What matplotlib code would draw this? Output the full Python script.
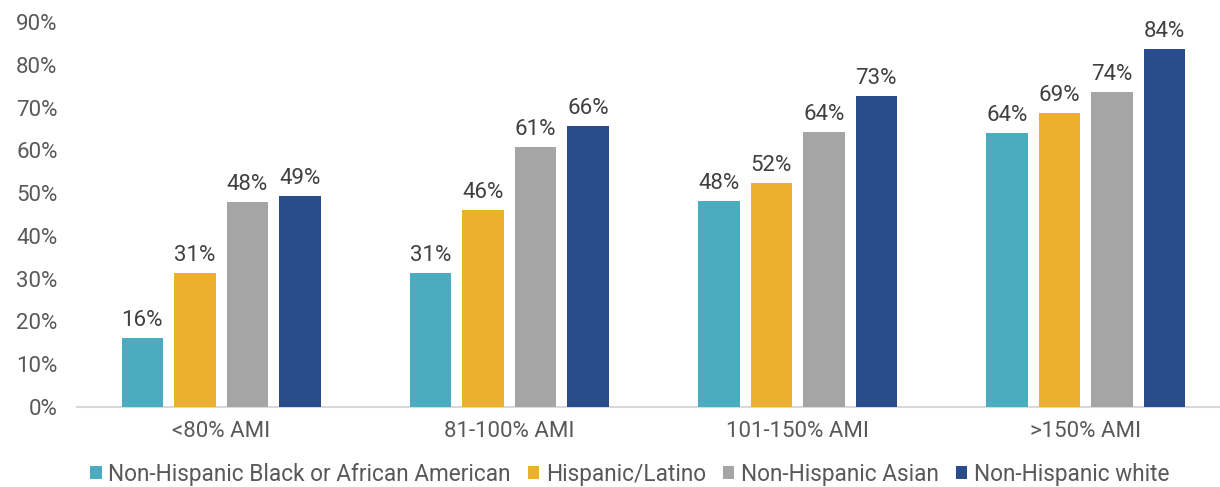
import matplotlib
matplotlib.use("Agg")
import matplotlib.pyplot as plt
import numpy as np

categories = ["<80% AMI", "81-100% AMI", "101-150% AMI", ">150% AMI"]
series_names = ["Non-Hispanic Black or African American", "Hispanic/Latino",
                "Non-Hispanic Asian", "Non-Hispanic white"]
black = [16.1, 31.4, 48.2, 64.0]
hispanic = [31.3, 46.0, 52.3, 68.8]
asian = [47.9, 60.8, 64.3, 73.6]
white = [49.4, 65.6, 72.6, 83.6]
colors = ["#4BACC0", "#EBB02D", "#A5A5A5", "#2B4C8A"]
yticks = [0, 10, 20, 30, 40, 50, 60, 70, 80, 90]

plt.rcParams['font.family'] = ['Roboto', 'DejaVu Sans']
fig = plt.figure(figsize=(12.2, 4.87), dpi=100)
ax = fig.add_axes([77/1220, 1-407/487, 1153/1220, (407-22)/487])

x = np.arange(len(categories))
step = 0.182
width = 0.144
txt = "#595959"
series = [black, hispanic, asian, white]
for i, (name, v) in enumerate(zip(series_names, series)):
    pos = x + (i - 1.5) * step
    bars = ax.bar(pos, v, width, color=colors[i], label=name, zorder=3)
    for b, val in zip(bars, v):
        ax.annotate(f"{round(val):d}%", (b.get_x() + b.get_width()/2, val),
                    xytext=(0, 5), textcoords="offset points",
                    ha="center", va="bottom", fontsize=16, color="#404040")

ax.set_xlim(-0.5, 3.5)
ax.set_ylim(0, 90)
ax.set_yticks(yticks)
ax.set_yticklabels([f"{t}%" for t in yticks], fontsize=16, color=txt)
ax.set_xticks(x)
ax.set_xticklabels(categories, fontsize=16, color=txt)
ax.tick_params(axis="both", length=0)
ax.tick_params(axis="y", pad=14)
ax.tick_params(axis="x", pad=10)
for s in ["top", "right", "left"]:
    ax.spines[s].set_visible(False)
ax.spines["bottom"].set_color("#D9D9D9")
ax.spines["bottom"].set_linewidth(1.5)

leg = fig.legend(loc="center", bbox_to_anchor=(630/1220, 1-474/487), ncol=4, frameon=False,
                 fontsize=16.3, handlelength=0.5, handleheight=0.5, handletextpad=0.3,
                 columnspacing=0.75, borderpad=0)
for t in leg.get_texts():
    t.set_color(txt)

fig.savefig("out.png", dpi=100)
